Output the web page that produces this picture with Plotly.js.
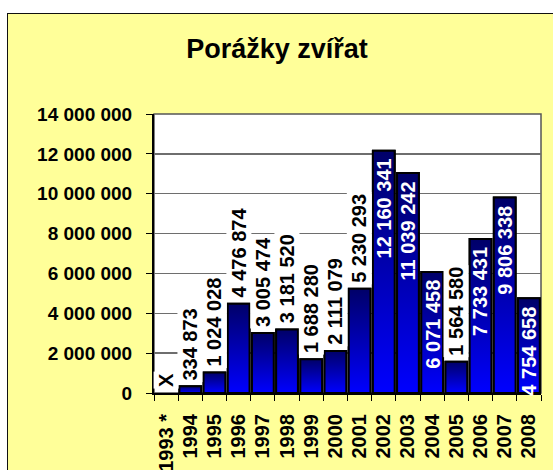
<!DOCTYPE html>
<html>
<head>
<meta charset="utf-8">
<script src="https://cdn.plot.ly/plotly-3.0.1.min.js"></script>
<style>
  html, body { margin: 0; padding: 0; background: #ffffff; width: 553px; height: 470px; overflow: hidden; }
  #frame { position: absolute; left: 7px; top: 13px; border-left: 1px solid #111; border-top: 1px solid #111; }
  #chart { width: 545px; height: 456px; }
</style>
</head>
<body>
<div id="frame"><div id="chart"></div></div>
<script>
// ---- data ----
const years = ['1993 *', '1994', '1995', '1996', '1997', '1998', '1999', '2000',
               '2001', '2002', '2003', '2004', '2005', '2006', '2007', '2008'];
const slaughters = [null, 334873, 1024028, 4476874, 3005474, 3181520, 1688280, 2111079,
                    5230293, 12160341, 11039242, 6071458, 1564580, 7733431, 9806338, 4754658];
const labelInside = [false, false, false, false, false, false, false, false,
                     false, true, true, true, false, true, true, true];
const missingLabel = 'X';
const yTicks = [0, 2000000, 4000000, 6000000, 8000000, 10000000, 12000000, 14000000];

// ---- helpers ----
function fmt(v) { return String(v).replace(/\B(?=(\d{3})+(?!\d))/g, ' '); }
const idx = years.map((_, i) => i);
const barW = 0.9;
const fontFam = 'Arial, "Liberation Sans", sans-serif';

const traces = [];
// base bar trace
traces.push({
  type: 'bar', x: idx, y: slaughters, width: barW,
  marker: { color: '#0000CC', line: { color: '#000000', width: 2 } },
  hoverinfo: 'x+y', showlegend: false
});
// gradient overlay for each bar (derived from the same data)
idx.forEach(i => {
  const v = slaughters[i];
  if (v === null) return;
  const a = i - barW / 2, b = i + barW / 2;
  traces.push({
    type: 'scatter', mode: 'lines',
    x: [a, a, b, b, a], y: [0, v, v, 0, 0],
    fill: 'toself',
    fillgradient: { type: 'vertical', colorscale: [[0, '#0000FF'], [1, '#000068']] },
    line: { color: '#000000', width: 2 },
    hoverinfo: 'skip', showlegend: false
  });
});

const labelFont = (c) => ({ family: fontFam, size: 20, color: c, weight: 'bold' });
const annotations = idx.map(i => {
  const v = slaughters[i];
  if (v === null) {
    return { x: i, y: 0, xref: 'x', yref: 'y', text: missingLabel, textangle: -90,
             xanchor: 'center', yanchor: 'bottom', yshift: 4, showarrow: false,
             bgcolor: '#ffffff', borderpad: 1, font: labelFont('#000000') };
  }
  if (labelInside[i]) {
    return { x: i, y: v, xref: 'x', yref: 'y', text: fmt(v), textangle: -90,
             xanchor: 'center', yanchor: 'top', yshift: -6, showarrow: false,
             font: labelFont('#ffffff') };
  }
  return { x: i, y: v, xref: 'x', yref: 'y', text: fmt(v), textangle: -90,
           xanchor: 'center', yanchor: 'bottom', yshift: 4, showarrow: false,
           bgcolor: '#ffffff', borderpad: 1, font: labelFont('#000000') };
});

const layout = {
  width: 545, height: 456,
  margin: { l: 146, r: 12, t: 100, b: 77 },
  paper_bgcolor: '#FFFF99',
  plot_bgcolor: '#FFFFFF',
  separators: ', ',
  font: { family: fontFam, size: 19, color: '#000000', weight: 'bold' },
  title: {
    text: 'Porážky zvířat',
    font: { family: fontFam, size: 27, color: '#000000', weight: 'bold' },
    x: 0.4936, xref: 'container', xanchor: 'center',
    y: 0.925, yref: 'container', yanchor: 'middle'
  },
  showlegend: false,
  xaxis: {
    range: [-0.5, 15.5], fixedrange: true,
    tickmode: 'array', tickvals: idx, ticktext: years,
    tickangle: -90, ticks: '', ticklabelstandoff: 11,
    tickfont: { family: fontFam, size: 20, color: '#000000', weight: 'bold' },
    showgrid: false, zeroline: false,
    showline: true, linecolor: '#000000', linewidth: 2,
    minor: { ticks: 'outside', tickmode: 'linear', tick0: -0.5, dtick: 1,
             ticklen: 6, tickcolor: '#000000', tickwidth: 1, showgrid: false }
  },
  yaxis: {
    range: [0, 14000000], fixedrange: true,
    tickmode: 'array', tickvals: yTicks, tickformat: ',d',
    ticks: 'outside', ticklen: 6, tickcolor: '#000000', tickwidth: 1,
    ticklabelstandoff: 10,
    tickfont: { family: fontFam, size: 19, color: '#000000', weight: 'bold' },
    showgrid: true, gridcolor: '#6E6E6E', gridwidth: 1.5,
    zeroline: false,
    showline: true, linecolor: '#000000', linewidth: 2
  },
  shapes: [
    { type: 'rect', xref: 'paper', yref: 'paper', x0: 0, x1: 1, y0: 0, y1: 1,
      line: { color: '#555555', width: 1.5 }, layer: 'below' }
  ],
  annotations: annotations
};

Plotly.newPlot('chart', traces, layout, { displayModeBar: false, staticPlot: true });
</script>
</body>
</html>
